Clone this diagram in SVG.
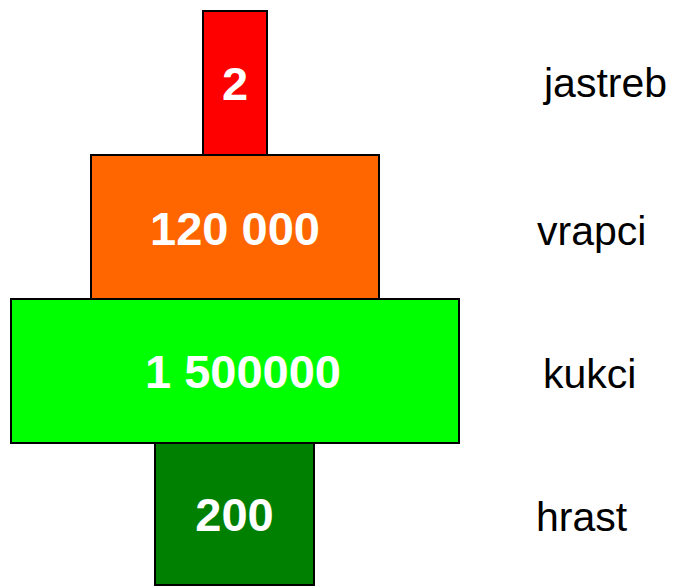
<svg xmlns="http://www.w3.org/2000/svg" width="677" height="587" viewBox="0 0 677 587">
<style>
.box{stroke:#000;stroke-width:2}
.num{font-family:"Liberation Sans",Arial,sans-serif;font-weight:bold;font-size:47px;fill:#fff;text-anchor:middle}
.lbl{font-family:"Liberation Sans",Arial,sans-serif;font-size:41px;fill:#000}
</style>
<rect width="677" height="587" fill="#fff"/>
<g id="jastreb">
<rect class="box" x="203" y="11" width="64" height="144" fill="#ff0000"/>
<text class="num" x="235" y="100">2</text>
<text class="lbl" x="544" y="97">jastreb</text>
</g>
<g id="vrapci">
<rect class="box" x="91" y="155" width="288" height="144" fill="#ff6600"/>
<text class="num" x="235" y="245">120 000</text>
<text class="lbl" x="537" y="245">vrapci</text>
</g>
<g id="kukci">
<rect class="box" x="11" y="299" width="448" height="144" fill="#00ff00"/>
<text class="num" x="243" y="388">1 500000</text>
<text class="lbl" x="543" y="388">kukci</text>
</g>
<g id="hrast">
<rect class="box" x="155" y="443" width="159" height="142" fill="#008000"/>
<text class="num" x="234.5" y="531">200</text>
<text class="lbl" x="536" y="531">hrast</text>
</g>
<g id="connectors"/>
</svg>
